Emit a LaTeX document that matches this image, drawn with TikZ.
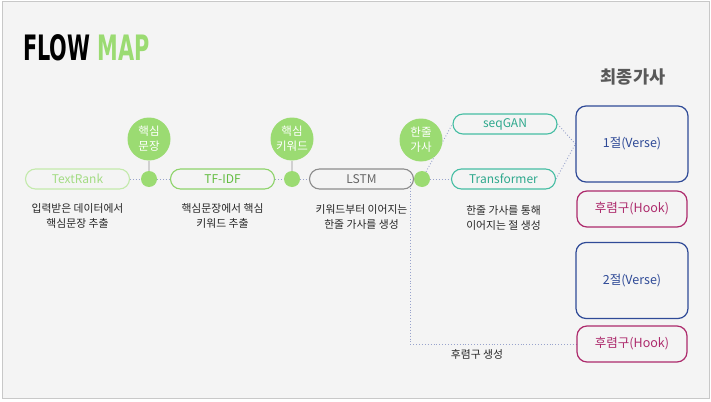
\documentclass[tikz,border=0pt]{standalone}
\usepackage{fontspec}
\setmainfont{Noto Sans CJK KR}
\newfontfamily\flowfont[FakeStretch=0.66]{DejaVu Sans Condensed}
\usetikzlibrary{backgrounds}
\tikzset{>=latex}

\definecolor{bgc}{HTML}{F4F4F4}
\definecolor{framec}{HTML}{C8C8C8}
\definecolor{leaf}{HTML}{9BDB72}
\definecolor{paleleaf}{HTML}{C3EAAB}
\definecolor{paleleaftext}{HTML}{A3DC83}
\definecolor{midleaf}{HTML}{8ED36B}
\definecolor{midleaftext}{HTML}{62BC40}
\definecolor{stone}{HTML}{8C8C8C}
\definecolor{teal}{HTML}{45BDA3}
\definecolor{tealtext}{HTML}{2EA88D}
\definecolor{navy}{HTML}{2F4A97}
\definecolor{berry}{HTML}{AD2A6C}
\definecolor{linkc}{HTML}{98A3CC}
\definecolor{stemc}{HTML}{D0D0D0}

\tikzset{
    pill/.style={draw, rounded corners=10pt, minimum width=104pt, minimum height=20pt,
        inner sep=0pt, line width=1.1pt, font=\fontsize{12}{12}\selectfont},
    hub/.style={circle, fill=leaf, minimum size=43pt, inner sep=0pt, text=white,
        align=center, font=\fontsize{11.5}{15}\selectfont},
    joint/.style={circle, fill=leaf, minimum size=16pt, inner sep=0pt},
    lyric/.style={draw, rounded corners=10pt, minimum width=112pt, inner sep=0pt,
        line width=1.2pt, font=\fontsize{12.5}{12.5}\selectfont},
    desc/.style={anchor=north, align=center, text=black!85, inner sep=0pt,
        font=\fontsize{10.8}{15}\selectfont},
    link/.style={draw=linkc, dotted, line width=0.9pt},
}

\begin{document}
\begin{tikzpicture}[x=1pt, y=-1pt]
        \useasboundingbox (0,0) rectangle (711,401);
        \node[anchor=west, inner sep=0pt, font=\flowfont\bfseries\fontsize{35}{35}\selectfont]
            (title) at (23,48) {FLOW \textcolor{leaf}{MAP}};
        \node[font=\bfseries\fontsize{17.5}{17.5}\selectfont, text=black!65] (final) at (633,77) {최종가사};

        % pipeline
        \node[pill, draw=paleleaf, text=paleleaftext] (textrank) at (77.5,179) {TextRank};
        \node[pill, draw=midleaf, text=midleaftext] (tfidf) at (222.5,179) {TF-IDF};
        \node[pill, draw=stone, text=black!60] (lstm) at (361.5,179) {LSTM};
        \node[pill, draw=teal, text=tealtext] (seqgan) at (505,124) {seqGAN};
        \node[pill, draw=teal, text=tealtext] (transformer) at (503.5,179) {Transformer};

        \node[joint] (j1) at (149,179) {};
        \node[joint] (j2) at (292,179) {};
        \node[joint] (j3) at (422,179) {};
        \node[hub] (h1) at (149,139) {핵심\\문장};
        \node[hub] (h2) at (292,139) {핵심\\키워드};
        \node[hub] (h3) at (421,140) {한줄\\가사};

        % lyrics
        \node[lyric, draw=navy, text=navy, minimum height=76pt] (verse1) at (632,144) {1절(Verse)};
        \node[lyric, draw=berry, text=berry, minimum width=110pt, minimum height=36pt] (hook1) at (632,209) {후렴구(Hook)};
        \node[lyric, draw=navy, text=navy, minimum height=76pt] (verse2) at (632,280.5) {2절(Verse)};
        \node[lyric, draw=berry, text=berry, minimum width=110pt, minimum height=36pt] (hook2) at (632,344) {후렴구(Hook)};

        \node[desc] (d1) at ([yshift=-14pt]textrank.south) {입력받은 데이터에서\\핵심문장 추출};
        \node[desc] (d2) at ([yshift=-14pt]tfidf.south) {핵심문장에서 핵심\\키워드 추출};
        \node[desc] (d3) at ([yshift=-15pt]lstm.south) {키워드부터 이어지는\\한줄 가사를 생성};
        \node[desc] (d4) at ([yshift=-16pt]transformer.south) {한줄 가사를 통해\\이어지는 절 생성};
        \node[desc] (d5) at (477,349) {후렴구 생성};

        \coordinate (turn) at (410,344);

        \begin{scope}[on background layer]
            \fill[bgc] (2,1) rectangle (709,398);
            \draw[framec, line width=0.8pt] (2,1) rectangle (709,398);
            \foreach \a/\b in {j1/h1, j2/h2}
                \draw[stemc, line width=2pt] (\a) -- (\b);
            \draw[link] (textrank) -- (j1) -- (tfidf);
            \draw[link] (tfidf) -- (j2) -- (lstm);
            \draw[link] (j3) -- (seqgan.west);
            \draw[link] (j3) -- (transformer.west);
            \draw[link] (seqgan.east) -- (verse1.west);
            \draw[link] (transformer.east) -- (verse1.west);
            \draw[link] (lstm.east -| turn) -- (turn) -- (hook2.west);
        \end{scope}
    \end{tikzpicture}
\end{document}
